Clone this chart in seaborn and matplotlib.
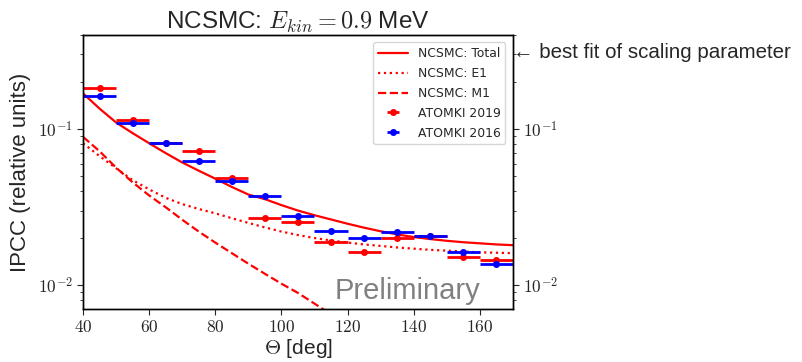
import numpy as np
import pandas as pd
import matplotlib
matplotlib.use("Agg")
import matplotlib.pyplot as plt
import seaborn as sns
from matplotlib.ticker import FuncFormatter, LogLocator, NullFormatter, MultipleLocator

# ---------------- data ----------------
theta_curve = [40, 45, 50, 55, 60, 65, 70, 75, 80, 85, 90, 95, 100, 105,
               110, 115, 120, 125, 130, 135, 140, 145, 150, 155, 160, 165, 170]
total = [0.169, 0.135, 0.110, 0.094, 0.081, 0.070, 0.061, 0.054, 0.048, 0.0425,
         0.038, 0.0355, 0.0325, 0.030, 0.028, 0.0263, 0.0247, 0.0233, 0.0221,
         0.0211, 0.0203, 0.0197, 0.0192, 0.0188, 0.0185, 0.0182, 0.0180]
e1 = [0.081, 0.067, 0.056, 0.047, 0.041, 0.0362, 0.0330, 0.0307, 0.0288, 0.0268,
      0.0250, 0.0234, 0.0220, 0.0209, 0.0200, 0.0193, 0.0187, 0.0182, 0.0178,
      0.0174, 0.0171, 0.0168, 0.0166, 0.0164, 0.0162, 0.0161, 0.0160]
theta_m1 = [40, 45, 50, 55, 60, 65, 70, 75, 80, 85, 90, 95, 100, 105, 110, 115]
m1 = [0.089, 0.072, 0.0565, 0.0455, 0.0375, 0.0315, 0.0262, 0.0220, 0.0187,
      0.0160, 0.0137, 0.0118, 0.0102, 0.0089, 0.0076, 0.0065]

theta_data = [45, 55, 65, 75, 85, 95, 105, 115, 125, 135, 145, 155, 165]
theta_halfwidth = [5] * len(theta_data)
atomki2019 = [0.183, 0.1137, 0.0817, 0.0723, 0.0488, 0.0270, 0.0252, 0.0189,
              0.0163, 0.0199, 0.0206, 0.0151, 0.0144]
atomki2016 = [0.162, 0.1098, 0.0813, 0.0621, 0.0462, 0.0373, 0.0277, 0.0221,
              0.0199, 0.0218, 0.0207, 0.0163, 0.0136]

# ---------------- style ----------------
sns.set_style("ticks")
plt.rcParams["font.family"] = ["Liberation Sans", "DejaVu Sans"]
plt.rcParams["mathtext.fontset"] = "cm"

fig = plt.figure(figsize=(8.02, 3.62), dpi=100)
ax = fig.add_axes([0.1035, 0.1464, 0.536, 0.757])

df_total = pd.DataFrame({"theta": theta_curve, "ipcc": total})
df_e1 = pd.DataFrame({"theta": theta_curve, "ipcc": e1})
df_m1 = pd.DataFrame({"theta": theta_m1, "ipcc": m1})

sns.lineplot(data=df_total, x="theta", y="ipcc", ax=ax, color="red", lw=1.6,
             label="NCSMC: Total")
sns.lineplot(data=df_e1, x="theta", y="ipcc", ax=ax, color="red", lw=1.6,
             linestyle=":", label="NCSMC: E1")
sns.lineplot(data=df_m1, x="theta", y="ipcc", ax=ax, color="red", lw=1.6,
             linestyle="--", label="NCSMC: M1")

ax.errorbar(theta_data, atomki2019, xerr=theta_halfwidth, fmt="o", color="red",
            ms=4, elinewidth=2, capsize=0, label="ATOMKI 2019")
ax.errorbar(theta_data, atomki2016, xerr=theta_halfwidth, fmt="o", color="blue",
            ms=4, elinewidth=2, capsize=0, label="ATOMKI 2016")

ax.set_yscale("log")
ax.set_xlim(40, 170)
ax.set_ylim(0.00702, 0.40)
ax.xaxis.set_major_locator(MultipleLocator(20))
ax.xaxis.set_major_formatter(FuncFormatter(lambda v, p: r"$%d$" % v))
logfmt = FuncFormatter(lambda v, p: r"$10^{%d}$" % round(np.log10(v)))
ax.yaxis.set_major_locator(LogLocator(base=10))
ax.yaxis.set_major_formatter(logfmt)
ax.yaxis.set_minor_formatter(NullFormatter())
ax.tick_params(axis="both", which="major", labelsize=12.5, direction="out", length=4)
ax.tick_params(axis="y", which="minor", direction="out", length=2.5)

for s in ax.spines.values():
    s.set_color("black")
    s.set_linewidth(1.0)

ax.set_xlabel(r"$\Theta$ [deg]", fontsize=15, labelpad=1)
ax.set_ylabel("IPCC (relative units)", fontsize=16, labelpad=5)
ax.set_title(r"NCSMC: $E_{kin} = 0.9$ MeV", fontsize=17.5, pad=4)

ax2 = ax.twinx()
ax2.set_yscale("log")
ax2.set_ylim(ax.get_ylim())
ax2.yaxis.set_major_locator(LogLocator(base=10))
ax2.yaxis.set_major_formatter(logfmt)
ax2.yaxis.set_minor_formatter(NullFormatter())
ax2.tick_params(axis="y", which="major", labelsize=12.5, direction="out", length=4)
ax2.tick_params(axis="y", which="minor", direction="out", length=2.5)
for s in ax2.spines.values():
    s.set_color("black")
    s.set_linewidth(1.0)

leg = ax.legend(loc="upper right", prop={"family": "DejaVu Sans", "size": 8.9},
                frameon=True, borderaxespad=0.6, handlelength=2.4,
                labelspacing=0.55, fancybox=True)
leg.get_frame().set_edgecolor("#cccccc")
leg.set_zorder(10)

ax.text(0.585, 0.065, "Preliminary", transform=ax.transAxes, fontsize=21,
        color="gray", ha="left", va="center")

fig.text(0.6397, 1 - 52 / 362, "\u2190 best fit of scaling parameter",
         fontsize=14.8, ha="left", va="center")

fig.savefig("out.png", dpi=100)
